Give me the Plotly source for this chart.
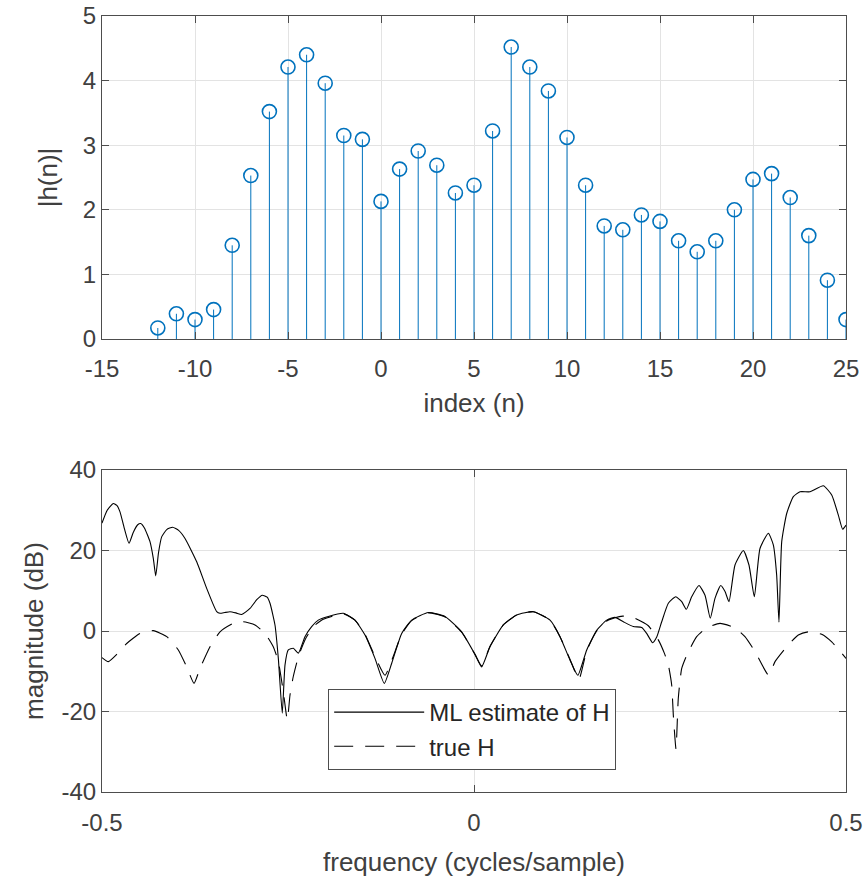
import plotly.graph_objects as go
from plotly.subplots import make_subplots

# ---- top panel: |h(n)| stem data ----
n_idx = list(range(-12, 26))
h_mag = [0.17, 0.39, 0.30, 0.455, 1.45, 2.53, 3.52, 4.21, 4.40, 3.96, 3.15, 3.09,
         2.13, 2.63, 2.91, 2.69, 2.26, 2.38, 3.22, 4.52, 4.21, 3.84, 3.12, 2.38,
         1.75, 1.69, 1.92, 1.82, 1.52, 1.35, 1.52, 2.00, 2.47, 2.56, 2.19, 1.60,
         0.91, 0.30]
top_xticks = [-15, -10, -5, 0, 5, 10, 15, 20, 25]
top_xlabels = ["-15", "-10", "-5", "0", "5", "10", "15", "20", "25"]
top_yticks = [0, 1, 2, 3, 4, 5]

# ---- bottom panel: ML estimate of H ----
f_ml = [-0.500, -0.493, -0.4848, -0.480, -0.4758, -0.470, -0.4637, -0.458, -0.452,
        -0.448, -0.443, -0.4355, -0.431, -0.4278, -0.424, -0.4198, -0.413, -0.405,
        -0.397, -0.3884, -0.3727, -0.3593, -0.3458, -0.3414, -0.335, -0.328, -0.320,
        -0.3123, -0.3011, -0.292, -0.2845, -0.278, -0.2742, -0.2675, -0.263, -0.2577,
        -0.254, -0.2496, -0.2429, -0.2361, -0.2272, -0.2182, -0.2093, -0.1958, -0.1757,
        -0.160, -0.1465, -0.1331, -0.1206, -0.1106, -0.0972, -0.0838, -0.0614, -0.039,
        -0.0166, 0.0013, 0.0103, 0.0215, 0.0394, 0.0574, 0.0797, 0.1022, 0.1156, 0.129,
        0.1395, 0.1515, 0.1649, 0.1784, 0.1895, 0.2007, 0.2141, 0.2254, 0.2321, 0.2401,
        0.2456, 0.2523, 0.2612, 0.2711, 0.2792, 0.2854, 0.2926, 0.3024, 0.3105, 0.3176,
        0.3239, 0.3316, 0.3374, 0.3427, 0.3508, 0.3620, 0.3696, 0.3768, 0.3844, 0.3956,
        0.4023, 0.4068, 0.4099, 0.4136, 0.4203, 0.4292, 0.4382, 0.4516, 0.4695, 0.4808,
        0.4897, 0.4955, 0.500]
db_ml = [26.8, 30.0, 31.7, 31.2, 29.6, 25.5, 21.8, 24.5, 26.4,
         26.7, 25.6, 22.2, 18.0, 13.7, 19.5, 23.4, 25.2, 25.8,
         25.0, 23.0, 17.2, 10.6, 4.8, 4.4, 4.6, 4.8, 4.5,
         4.1, 5.6, 7.8, 8.9, 8.4, 6.9, 1.5, -6.8, -20.4,
         -8.4, -4.7, -4.3, -5.5, -1.4, 1.1, 2.7, 3.6, 4.4,
         2.7, -1.0, -6.8, -13.0, -8.0, -0.6, 2.7, 4.6, 3.6,
         -0.2, -5.8, -8.9, -3.9, 1.5, 4.0, 4.8, 2.7, -1.4, -7.2,
         -11.0, -4.7, 0.2, 2.7, 3.4, 2.3, 1.1, 0.9, -0.6, -2.9,
         -1.5, 2.3, 6.9, 8.5, 7.3, 5.4, 8.5, 11.3, 8.9, 3.2,
         8.1, 11.3, 9.8, 7.3, 16.4, 20.0, 16.4, 8.5, 20.5, 24.3,
         21.4, 13.9, 2.2, 22.2, 29.2, 33.4, 34.6, 34.6, 36.1, 33.8,
         28.8, 25.3, 26.3]

# ---- bottom panel: true H ----
f_true = [-0.500, -0.4915, -0.4802, -0.4668, -0.4489, -0.431, -0.413, -0.3974, -0.3862,
          -0.3763, -0.3683, -0.3548, -0.3414, -0.3235, -0.3101, -0.2944, -0.2809, -0.2698,
          -0.263, -0.2563, -0.2509, -0.2473, -0.2429, -0.2361, -0.2272, -0.216, -0.2026,
          -0.1757, -0.160, -0.1465, -0.1331, -0.1196, -0.110, -0.0972, -0.0838, -0.0614,
          -0.039, -0.0166, 0.0013, 0.0103, 0.0215, 0.0394, 0.0574, 0.0797, 0.1022, 0.1156,
          0.129, 0.141, 0.1515, 0.1649, 0.1784, 0.1895, 0.200, 0.212, 0.2343, 0.2477,
          0.2558, 0.2612, 0.2657, 0.2679, 0.2715, 0.2746, 0.2792, 0.2872, 0.2993, 0.3128,
          0.3306, 0.3508, 0.3642, 0.3777, 0.396, 0.4046, 0.4203, 0.4359, 0.4494, 0.4673,
          0.4808, 0.500]
db_true = [-6.6, -7.6, -5.8, -3.1, -0.6, 0.1, -1.4, -4.7, -8.9,
           -13.0, -9.3, -3.9, -0.2, 1.9, 2.3, 1.5, -0.6, -3.9,
           -7.6, -15.1, -22.1, -15.9, -11.3, -6.4, -2.2, 1.1, 2.9,
           4.3, 2.7, -0.8, -6.3, -11.0, -7.0, -0.8, 2.6, 4.5,
           3.5, -0.3, -5.8, -8.7, -3.8, 1.5, 4.0, 4.8, 2.7, -1.4,
           -7.0, -12.0, -4.9, 0.0, 2.5, 3.3, 3.7, 3.5, 1.3, -2.2,
           -5.5, -8.4, -13.4, -20.9, -29.3, -16.7, -9.3, -5.5, -1.4, 0.8,
           1.9, 0.8, -1.4, -5.1, -11.0, -7.6, -3.9, -1.0, -0.2, -0.8,
           -2.7, -6.8]
bot_xticks = [-0.5, 0, 0.5]
bot_xlabels = ["-0.5", "0", "0.5"]
bot_yticks = [-40, -20, 0, 20, 40]
bot_ylabels = ["-40", "-20", "0", "20", "40"]

BLUE = "#0072BD"
FONT = "Liberation Sans, Arial, sans-serif"
TXT = "#404040"
AX = "#4d4d4d"
GRID = "#e3e3e3"

fig = make_subplots(rows=2, cols=1, vertical_spacing=0.0)

# stems built from the data arrays
stem_x, stem_y = [], []
for xi, yi in zip(n_idx, h_mag):
    stem_x += [xi, xi, None]
    stem_y += [0, yi, None]
fig.add_trace(go.Scatter(x=stem_x, y=stem_y, mode="lines",
                         line=dict(color=BLUE, width=1), showlegend=False,
                         hoverinfo="skip"), row=1, col=1)
fig.add_trace(go.Scatter(x=n_idx, y=h_mag, mode="markers",
                         marker=dict(symbol="circle-open", size=14, color=BLUE,
                                     line=dict(width=1.6, color=BLUE)),
                         showlegend=False), row=1, col=1)

fig.add_trace(go.Scatter(x=f_ml, y=db_ml, mode="lines", name="ML estimate of H",
                         line=dict(color="#000000", width=1.1, shape="spline",
                                   smoothing=0.5)), row=2, col=1)
fig.add_trace(go.Scatter(x=f_true, y=db_true, mode="lines", name="true H",
                         line=dict(color="#000000", width=1.1, dash="19px,12px",
                                   shape="spline", smoothing=0.5)), row=2, col=1)

axis_common = dict(showline=True, linecolor=AX, linewidth=1, mirror="ticks",
                   ticks="inside", ticklen=7, tickcolor=AX, showgrid=True,
                   gridcolor=GRID, gridwidth=1, zeroline=False, automargin=False,
                   tickfont=dict(family=FONT, size=24, color=TXT))

fig.update_xaxes(**axis_common)
fig.update_yaxes(**axis_common)

fig.update_xaxes(range=[-15, 25], tickvals=top_xticks, ticktext=top_xlabels,
                 ticklabelstandoff=8, row=1, col=1,
                 title=dict(text="index (n)", standoff=13,
                            font=dict(family=FONT, size=26, color=TXT)))
fig.update_yaxes(range=[0, 5], tickvals=top_yticks, row=1, col=1,
                 domain=[0.5838, 1.0],
                 title=dict(text="|h(n)|", standoff=17,
                            font=dict(family=FONT, size=26, color=TXT)))
fig.update_xaxes(range=[-0.5, 0.5], tickvals=bot_xticks, ticktext=bot_xlabels,
                 ticklabelstandoff=9, row=2, col=1,
                 title=dict(text="frequency (cycles/sample)", standoff=18,
                            font=dict(family=FONT, size=26, color=TXT)))
fig.update_yaxes(range=[-40, 40], tickvals=bot_yticks, ticktext=bot_ylabels,
                 row=2, col=1, domain=[0.0, 0.4149],
                 title=dict(text="magnitude (dB)", standoff=10,
                            font=dict(family=FONT, size=26, color=TXT)))

fig.update_layout(
    width=867, height=882,
    margin=dict(l=102, r=21, t=16, b=90),
    paper_bgcolor="white", plot_bgcolor="white",
    font=dict(family=FONT, color=TXT),
    showlegend=True,
    legend=dict(x=0.304, y=0.1327, xanchor="left", yanchor="top",
                bgcolor="white", bordercolor=AX, borderwidth=1,
                font=dict(family=FONT, size=24, color="#262626"),
                itemwidth=90, tracegroupgap=0),
)

fig.write_html("out.html")
